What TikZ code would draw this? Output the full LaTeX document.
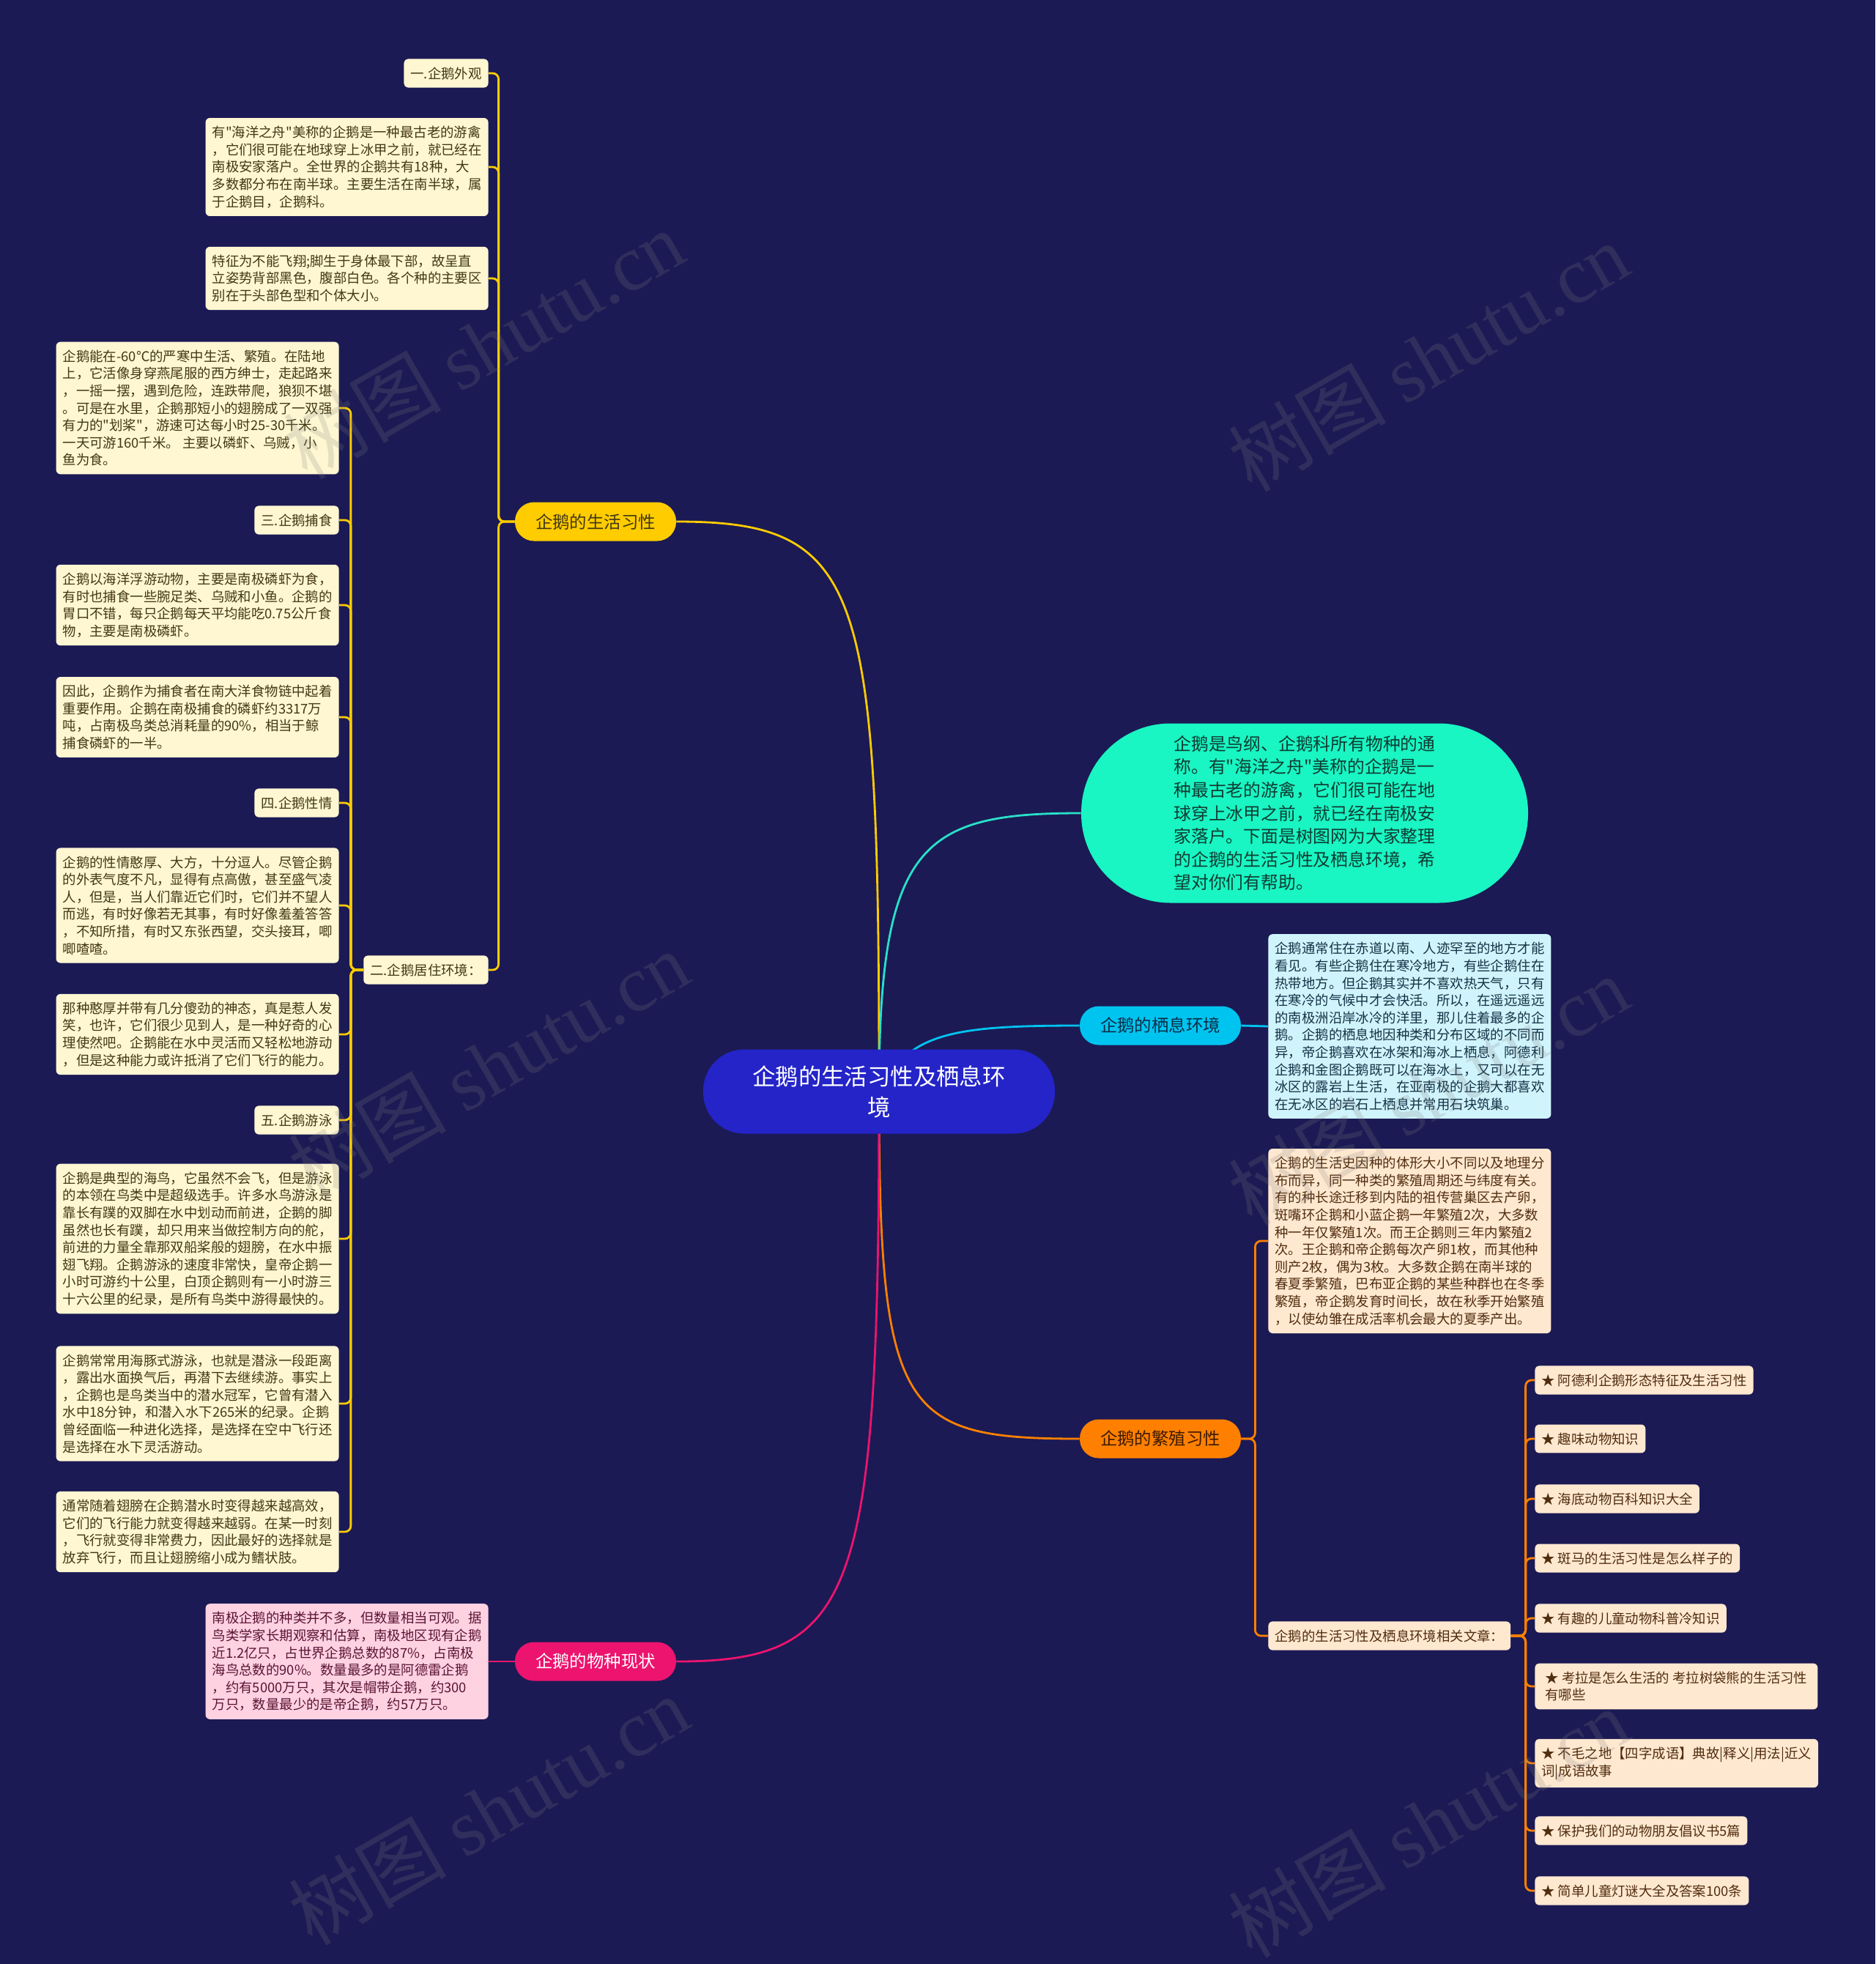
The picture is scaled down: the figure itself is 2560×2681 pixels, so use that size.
\documentclass[tikz,border=0pt]{standalone}
\usepackage{fontspec}
\setmainfont{Noto Sans CJK SC}[Ligatures=TeXOff]
\newfontfamily\markfont{Liberation Serif}
\usetikzlibrary{positioning}

\definecolor{night}{RGB}{27,26,84}
\definecolor{royal}{RGB}{36,36,200}
\definecolor{sunny}{RGB}{255,204,0}
\definecolor{mint}{RGB}{25,245,195}
\definecolor{mintline}{RGB}{40,225,200}
\definecolor{mintink}{RGB}{15,60,50}
\definecolor{sky}{RGB}{0,196,240}
\definecolor{skyink}{RGB}{10,45,70}
\definecolor{amber}{RGB}{255,128,0}
\definecolor{amberink}{RGB}{60,25,0}
\definecolor{rose}{RGB}{236,20,110}
\definecolor{cream}{RGB}{255,247,210}
\definecolor{ink}{RGB}{66,56,20}
\definecolor{icy}{RGB}{208,244,252}
\definecolor{icyink}{RGB}{20,50,70}
\definecolor{peach}{RGB}{255,232,208}
\definecolor{peachink}{RGB}{80,45,15}
\definecolor{blush}{RGB}{255,210,226}
\definecolor{blushink}{RGB}{90,20,50}

\pgfdeclarelayer{bg}
\pgfdeclarelayer{edges}
\pgfsetlayers{bg,edges,main}

\tikzset{
  root/.style={fill=royal, text=white, rounded corners=28pt, minimum width=240pt,
    minimum height=57.5pt, align=center, font=\fontsize{15.7}{21}\selectfont},
  topic/.style={rounded corners=13pt, minimum width=110pt, minimum height=26.5pt,
    inner sep=0pt, font=\fontsize{11.7}{14}\selectfont},
  leaf/.style={rounded corners=3pt, inner xsep=4.5pt, inner ysep=5.5pt, align=left,
    font=\fontsize{9.2}{11.8}\selectfont},
  card/.style={leaf, minimum width=193pt},
  creamleaf/.style={fill=cream, text=ink},
  icyleaf/.style={fill=icy, text=icyink},
  peachleaf/.style={fill=peach, text=peachink},
  blushleaf/.style={fill=blush, text=blushink},
  wire/.style={line width=1.4pt, rounded corners=4pt},
  watermark/.style={rotate=30, text=gray, text opacity=0.2, font=\fontsize{54}{54}\selectfont}
}

\begin{document}
\begin{tikzpicture}[x=0.5pt, y=-0.5pt, line cap=round, line join=round]
		%Canvas
		\begin{pgfonlayer}{bg}
			\fill[night] (0,0) rectangle (2560,2681);
		\end{pgfonlayer}
		\useasboundingbox (0,0) rectangle (2560,2681);
		
		%Root
		\node[root] (root) at (1200,1490) {企鹅的生活习性及栖息环\\境};
		
		%Topics
		\node[topic, fill=sunny, text=ink] (habits) at (813,712) {企鹅的生活习性};
		\node[topic, fill=sky, text=skyink] (habitat) at (1584,1400) {企鹅的栖息环境};
		\node[topic, fill=amber, text=amberink] (breeding) at (1584,1964) {企鹅的繁殖习性};
		\node[topic, fill=rose, text=white] (status) at (813,2268) {企鹅的物种现状};
		
		%Intro
		\node[fill=mint, text=mintink, rounded corners=61pt, minimum width=305pt, minimum height=122.5pt,
			align=left, font=\fontsize{11.9}{15.8}\selectfont] (intro) at (1781,1110)
			{企鹅是鸟纲、企鹅科所有物种的通\\称。有"海洋之舟"美称的企鹅是一\\种最古老的游禽，它们很可能在地\\球穿上冰甲之前，就已经在南极安\\家落户。下面是树图网为大家整理\\的企鹅的生活习性及栖息环境，希\\望对你们有帮助。};
		
		%Habits branch
		\node[leaf, creamleaf, anchor=east] (look) at (667,100) {一.企鹅外观};
		\node[card, creamleaf, anchor=east] (ark) at (667,228)
			{有"海洋之舟"美称的企鹅是一种最古老的游禽\\，它们很可能在地球穿上冰甲之前，就已经在\\南极安家落户。全世界的企鹅共有18种，大\\多数都分布在南半球。主要生活在南半球，属\\于企鹅目，企鹅科。};
		\node[card, creamleaf, anchor=east] (shape) at (667,380)
			{特征为不能飞翔;脚生于身体最下部，故呈直\\立姿势背部黑色，腹部白色。各个种的主要区\\别在于头部色型和个体大小。};
		\node[leaf, creamleaf, anchor=east] (home) at (667,1324) {二.企鹅居住环境：};
		
		%Home column
		\node[card, creamleaf, anchor=east] (cold) at (463,557)
			{企鹅能在-60℃的严寒中生活、繁殖。在陆地\\上，它活像身穿燕尾服的西方绅士，走起路来\\，一摇一摆，遇到危险，连跌带爬，狼狈不堪\\。可是在水里，企鹅那短小的翅膀成了一双强\\有力的"划桨"，游速可达每小时25-30千米。\\一天可游160千米。 主要以磷虾、乌贼，小\\鱼为食。};
		\node[leaf, creamleaf, anchor=east] (hunt) at (463,710) {三.企鹅捕食};
		\node[card, creamleaf, anchor=east] (krill) at (463,826)
			{企鹅以海洋浮游动物，主要是南极磷虾为食，\\有时也捕食一些腕足类、乌贼和小鱼。企鹅的\\胃口不错，每只企鹅每天平均能吃0.75公斤食\\物，主要是南极磷虾。};
		\node[card, creamleaf, anchor=east] (chain) at (463,979)
			{因此，企鹅作为捕食者在南大洋食物链中起着\\重要作用。企鹅在南极捕食的磷虾约3317万\\吨，占南极鸟类总消耗量的90\%，相当于鲸\\捕食磷虾的一半。};
		\node[leaf, creamleaf, anchor=east] (mood) at (463,1096) {四.企鹅性情};
		\node[card, creamleaf, anchor=east] (temper) at (463,1236)
			{企鹅的性情憨厚、大方，十分逗人。尽管企鹅\\的外表气度不凡，显得有点高傲，甚至盛气凌\\人，但是，当人们靠近它们时，它们并不望人\\而逃，有时好像若无其事，有时好像羞羞答答\\，不知所措，有时又东张西望，交头接耳，唧\\唧喳喳。};
		\node[card, creamleaf, anchor=east] (naive) at (463,1412)
			{那种憨厚并带有几分傻劲的神态，真是惹人发\\笑，也许，它们很少见到人，是一种好奇的心\\理使然吧。企鹅能在水中灵活而又轻松地游动\\，但是这种能力或许抵消了它们飞行的能力。};
		\node[leaf, creamleaf, anchor=east] (swim) at (463,1529) {五.企鹅游泳};
		\node[card, creamleaf, anchor=east] (seabird) at (463,1691)
			{企鹅是典型的海鸟，它虽然不会飞，但是游泳\\的本领在鸟类中是超级选手。许多水鸟游泳是\\靠长有蹼的双脚在水中划动而前进，企鹅的脚\\虽然也长有蹼，却只用来当做控制方向的舵，\\前进的力量全靠那双船桨般的翅膀，在水中振\\翅飞翔。企鹅游泳的速度非常快，皇帝企鹅一\\小时可游约十公里，白顶企鹅则有一小时游三\\十六公里的纪录，是所有鸟类中游得最快的。};
		\node[card, creamleaf, anchor=east] (dolphin) at (463,1916)
			{企鹅常常用海豚式游泳，也就是潜泳一段距离\\，露出水面换气后，再潜下去继续游。事实上\\，企鹅也是鸟类当中的潜水冠军，它曾有潜入\\水中18分钟，和潜入水下265米的纪录。企鹅\\曾经面临一种进化选择，是选择在空中飞行还\\是选择在水下灵活游动。};
		\node[card, creamleaf, anchor=east] (fins) at (463,2091)
			{通常随着翅膀在企鹅潜水时变得越来越高效，\\它们的飞行能力就变得越来越弱。在某一时刻\\，飞行就变得非常费力，因此最好的选择就是\\放弃飞行，而且让翅膀缩小成为鳍状肢。};
		
		%Habitat branch
		\node[card, icyleaf, anchor=west] (nest) at (1731,1401)
			{企鹅通常住在赤道以南、人迹罕至的地方才能\\看见。有些企鹅住在寒冷地方，有些企鹅住在\\热带地方。但企鹅其实并不喜欢热天气，只有\\在寒冷的气候中才会快活。所以，在遥远遥远\\的南极洲沿岸冰冷的洋里，那儿住着最多的企\\鹅。企鹅的栖息地因种类和分布区域的不同而\\异，帝企鹅喜欢在冰架和海冰上栖息，阿德利\\企鹅和金图企鹅既可以在海冰上，又可以在无\\冰区的露岩上生活，在亚南极的企鹅大都喜欢\\在无冰区的岩石上栖息并常用石块筑巢。};
		
		%Breeding branch
		\node[card, peachleaf, anchor=west] (cycle) at (1731,1694)
			{企鹅的生活史因种的体形大小不同以及地理分\\布而异，同一种类的繁殖周期还与纬度有关。\\有的种长途迁移到内陆的祖传营巢区去产卵，\\斑嘴环企鹅和小蓝企鹅一年繁殖2次，大多数\\种一年仅繁殖1次。而王企鹅则三年内繁殖2\\次。王企鹅和帝企鹅每次产卵1枚，而其他种\\则产2枚，偶为3枚。大多数企鹅在南半球的\\春夏季繁殖，巴布亚企鹅的某些种群也在冬季\\繁殖，帝企鹅发育时间长，故在秋季开始繁殖\\，以使幼雏在成活率机会最大的夏季产出。};
		\node[leaf, peachleaf, anchor=west] (links) at (1731,2233) {企鹅的生活习性及栖息环境相关文章：};
		\foreach \y/\title/\wide [count=\i] in {
			1884/{★ 阿德利企鹅形态特征及生活习性}/0pt,
			1964/{★ 趣味动物知识}/0pt,
			2046/{★ 海底动物百科知识大全}/0pt,
			2127/{★ 斑马的生活习性是怎么样子的}/0pt,
			2209/{★ 有趣的儿童动物科普冷知识}/0pt,
			2302/{★ 考拉是怎么生活的 考拉树袋熊的生活习性\\有哪些}/193pt,
			2407/{★ 不毛之地【四字成语】典故|释义|用法|近义\\词|成语故事}/193pt,
			2499/{★ 保护我们的动物朋友倡议书5篇}/0pt,
			2581/{★ 简单儿童灯谜大全及答案100条}/0pt}
		{
			\node[leaf, peachleaf, minimum width=\wide, anchor=west] (star\i) at (2095,\y) {\title};
		}
		
		%Status branch
		\node[card, blushleaf, anchor=east] (census) at (667,2268)
			{南极企鹅的种类并不多，但数量相当可观。据\\鸟类学家长期观察和估算，南极地区现有企鹅\\近1.2亿只，占世界企鹅总数的87\%，占南极\\海鸟总数的90\%。数量最多的是阿德雷企鹅\\，约有5000万只，其次是帽带企鹅，约300\\万只，数量最少的是帝企鹅，约57万只。};
		
		%Connectors
		\begin{pgfonlayer}{edges}
			\draw[wire, sunny] (root.center) .. controls (1200,800) and (1180,712) .. (habits.east);
			\draw[wire, mintline] (root.center) .. controls (1200,1150) and (1260,1110) .. (intro.west);
			\draw[wire, sky] (root.center) .. controls (1240,1410) and (1300,1400) .. (habitat.west);
			\draw[wire, amber] (root.center) .. controls (1200,1930) and (1230,1964) .. (breeding.west);
			\draw[wire, rose] (root.center) .. controls (1200,2180) and (1170,2268) .. (status.east);
			
			\foreach \kid in {look, ark, shape, home}
				\draw[wire, sunny] (habits.west) -- ++(-22,0) |- (\kid.east);
			\foreach \kid in {cold, hunt, krill, chain, mood, temper, naive, swim, seabird, dolphin, fins}
				\draw[wire, sunny] (home.west) -- ++(-17,0) |- (\kid.east);
			\draw[wire, sky] (habitat.east) -- (nest.west);
			\foreach \kid in {cycle, links}
				\draw[wire, amber] (breeding.east) -- ++(19,0) |- (\kid.west);
			\foreach \i in {1,...,9}
				\draw[wire, amber] (links.east) -- ++(20,0) |- (star\i.west);
			\draw[wire, rose] (status.west) -- (census.east);
		\end{pgfonlayer}
		
		%Watermarks
		\foreach \wx/\wy in {660/470, 1950/487, 667/1454, 1950/1488, 667/2471, 1950/2488}
			\node[watermark] at (\wx,\wy) {树图 {\markfont shutu.cn}};
		
	\end{tikzpicture}
\end{document}
